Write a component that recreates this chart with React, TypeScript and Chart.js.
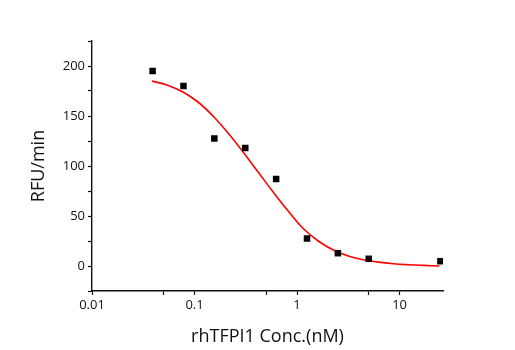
import React, { useEffect, useRef } from "react";
import { Chart, registerables } from "chart.js";

Chart.register(...registerables);

const concentrations = [0.039, 0.078, 0.156, 0.3125, 0.625, 1.25, 2.5, 5, 25];
const rfuValues = [195, 180, 127.5, 118, 87, 27.5, 12.8, 7.2, 4.8];

const fitX = [0.0383, 0.0537, 0.077, 0.108, 0.1513, 0.2121, 0.2973, 0.4167, 0.584, 0.8185, 1.147, 1.608, 2.254, 3.159, 4.428, 6.207, 8.7, 12.19, 17.09, 24.5];
const fitY = [185, 181, 174, 164, 150, 133, 114, 94, 74, 55, 37.5, 25, 16, 10, 6.2, 3.9, 2.3, 1.3, 0.6, 0];

const xTickValues = [0.01, 0.05, 0.1, 0.5, 1, 5, 10];
const xTickLabels: Record<string, string> = { "0.01": "0.01", "0.1": "0.1", "1": "1", "10": "10" };
const yLabelValues = [0, 50, 100, 150, 200];

const xTitle = "rhTFPI1 Conc.(nM)";
const yTitle = "RFU/min";

const FONT = "'Open Sans', 'DejaVu Sans', sans-serif";

export default function App() {
  const ref = useRef<HTMLCanvasElement | null>(null);
  useEffect(() => {
    document.body.style.margin = "0";
    const canvas = ref.current!;
    const chart = new Chart(canvas, {
      type: "scatter",
      data: {
        datasets: [
          {
            label: "data",
            data: concentrations.map((x, i) => ({ x, y: rfuValues[i] })),
            pointStyle: "rect",
            pointRadius: 4.6,
            pointHoverRadius: 4.6,
            backgroundColor: "#000",
            borderColor: "#000",
            borderWidth: 0,
            showLine: false,
            order: 0,
          },
          {
            label: "fit",
            data: fitX.map((x, i) => ({ x, y: fitY[i] })),
            showLine: true,
            borderColor: "#ff0000",
            borderWidth: 1.6,
            pointRadius: 0,
            tension: 0.4,
            fill: false,
            order: 1,
          },
        ],
      },
      options: {
        animation: false,
        responsive: false,
        maintainAspectRatio: false,
        layout: { padding: { top: 41, right: 72, left: 0, bottom: 0 } },
        plugins: { legend: { display: false }, tooltip: { enabled: false } },
        scales: {
          x: {
            type: "logarithmic",
            min: 0.01,
            max: 26.5,
            afterBuildTicks: (scale: any) => {
              scale.ticks = xTickValues.map((v) => ({ value: v }));
            },
            afterFit: (scale: any) => {
              scale.height = 59;
            },
            ticks: {
              autoSkip: false,
              maxRotation: 0,
              color: "#111",
              font: { family: FONT, size: 13 },
              padding: 2,
              callback: (v: any) => xTickLabels[String(v)] ?? "",
            },
            grid: { drawOnChartArea: false, drawTicks: true, tickLength: 4, color: "#111", tickWidth: 1.2 },
            border: { display: true, color: "#111", width: 1.4 },
            title: {
              display: true,
              text: xTitle,
              color: "#111",
              font: { family: FONT, size: 18 },
              padding: { top: 0, bottom: 2 },
            },
          },
          y: {
            type: "linear",
            min: -25,
            max: 225,
            afterFit: (scale: any) => {
              scale.width = 92;
            },
            ticks: {
              stepSize: 25,
              autoSkip: false,
              color: "#111",
              font: { family: FONT, size: 13 },
              padding: 3,
              callback: (v: any) => (yLabelValues.includes(Number(v)) ? String(v) : ""),
            },
            grid: { drawOnChartArea: false, drawTicks: true, tickLength: 4, color: "#111", tickWidth: 1.2 },
            border: { display: true, color: "#111", width: 1.4 },
            title: {
              display: true,
              text: yTitle,
              color: "#111",
              font: { family: FONT, size: 18 },
              padding: { top: 28, bottom: 0 },
            },
          },
        },
      },
    } as any);
    return () => chart.destroy();
  }, []);
  return <canvas ref={ref} width={515} height={350} style={{ display: "block" }} />;
}
